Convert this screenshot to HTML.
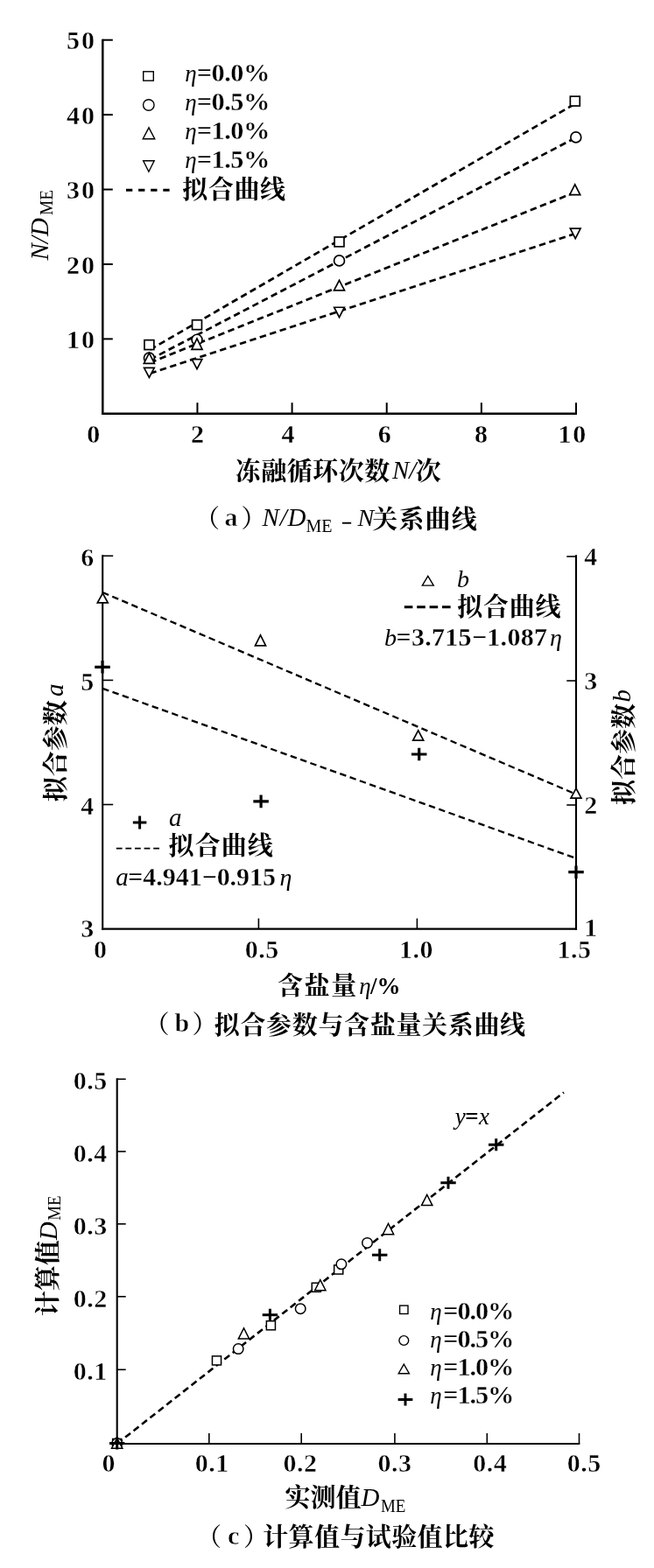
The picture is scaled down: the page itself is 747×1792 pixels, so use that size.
<!DOCTYPE html>
<html lang="zh"><head><meta charset="utf-8"><title>figure</title>
<style>html,body{margin:0;padding:0;background:#fff}svg{display:block}text{font-family:"Liberation Serif", "Noto Serif CJK SC", serif;fill:#000}.i{font-style:italic;font-weight:normal}.b{font-weight:bold}.n{font-weight:normal}.c{font-weight:700}.p{font-weight:500}.t{font-weight:bold;stroke:#fff;stroke-width:0.5px}.u{font-weight:bold;stroke:#fff;stroke-width:0.35px}</style>
</head><body>
<svg width="747" height="1792" viewBox="0 0 747 1792">
<rect width="747" height="1792" fill="#fff"/>
<line x1="171.37" y1="399.64" x2="658" y2="117.88" stroke="#000" stroke-width="2.7" stroke-dasharray="7.5 4.5" stroke-dashoffset="0"/>
<line x1="171.37" y1="410.87" x2="658" y2="157.17" stroke="#000" stroke-width="2.7" stroke-dasharray="7.5 4.5" stroke-dashoffset="0"/>
<line x1="171.37" y1="414.48" x2="658" y2="219.36" stroke="#000" stroke-width="2.7" stroke-dasharray="7.5 4.5" stroke-dashoffset="0"/>
<line x1="171.37" y1="426.82" x2="658" y2="266.68" stroke="#000" stroke-width="2.7" stroke-dasharray="7.5 4.5" stroke-dashoffset="0"/>
<line x1="117.3" y1="44.7" x2="117.3" y2="474.05" stroke="#000" stroke-width="2.5" />
<line x1="116.05" y1="472.8" x2="659" y2="472.8" stroke="#000" stroke-width="2.5" />
<line x1="117.3" y1="387.38" x2="128.8" y2="387.38" stroke="#000" stroke-width="2" />
<text id="ay1" class="u" x="109.7" y="397.98" font-size="30" text-anchor="end" letter-spacing="1.8">10</text>
<line x1="117.3" y1="301.96" x2="128.8" y2="301.96" stroke="#000" stroke-width="2" />
<text id="ay2" class="u" x="109.7" y="312.56" font-size="30" text-anchor="end" letter-spacing="1.8">20</text>
<line x1="117.3" y1="216.54" x2="128.8" y2="216.54" stroke="#000" stroke-width="2" />
<text id="ay3" class="u" x="109.7" y="227.14" font-size="30" text-anchor="end" letter-spacing="1.8">30</text>
<line x1="117.3" y1="131.12" x2="128.8" y2="131.12" stroke="#000" stroke-width="2" />
<text id="ay4" class="u" x="109.7" y="141.72" font-size="30" text-anchor="end" letter-spacing="1.8">40</text>
<line x1="117.3" y1="45.7" x2="128.8" y2="45.7" stroke="#000" stroke-width="2" />
<text id="ay5" class="u" x="109.7" y="56.3" font-size="30" text-anchor="end" letter-spacing="1.8">50</text>
<line x1="225.44" y1="472.8" x2="225.44" y2="460.2" stroke="#000" stroke-width="2" />
<line x1="333.58" y1="472.8" x2="333.58" y2="460.2" stroke="#000" stroke-width="2" />
<line x1="441.72" y1="472.8" x2="441.72" y2="460.2" stroke="#000" stroke-width="2" />
<line x1="549.86" y1="472.8" x2="549.86" y2="460.2" stroke="#000" stroke-width="2" />
<line x1="658" y1="472.8" x2="658" y2="460.2" stroke="#000" stroke-width="2" />
<text id="ax0" class="u" x="107.6" y="505.7" font-size="30" text-anchor="middle" letter-spacing="1.8">0</text>
<text id="ax1" class="u" x="226.4" y="505.7" font-size="30" text-anchor="middle" letter-spacing="1.8">2</text>
<text id="ax2" class="u" x="329.9" y="505.7" font-size="30" text-anchor="middle" letter-spacing="1.8">4</text>
<text id="ax3" class="u" x="440.1" y="505.7" font-size="30" text-anchor="middle" letter-spacing="1.8">6</text>
<text id="ax4" class="u" x="550.5" y="505.7" font-size="30" text-anchor="middle" letter-spacing="1.8">8</text>
<text id="ax5" class="u" x="654.2" y="505.7" font-size="30" text-anchor="middle" letter-spacing="1.8">10</text>
<rect x="164.95" y="388.65" width="10.9" height="10.9" fill="#fff" stroke="#000" stroke-width="1.7"/>
<circle cx="170.4" cy="409" r="5.95" fill="#fff" stroke="#000" stroke-width="1.7"/>
<polygon points="164.38,415.45 176.42,415.45 170.4,403.4" fill="#fff" stroke="#000" stroke-width="1.7"/>
<polygon points="164.57,420.45 176.23,420.45 170.4,431.39" fill="#fff" stroke="#000" stroke-width="1.7"/>
<rect x="219.55" y="365.75" width="10.9" height="10.9" fill="#fff" stroke="#000" stroke-width="1.7"/>
<circle cx="225" cy="388.2" r="5.95" fill="#fff" stroke="#000" stroke-width="1.7"/>
<polygon points="218.96,399.35 231.04,399.35 225,386.94" fill="#fff" stroke="#000" stroke-width="1.7"/>
<polygon points="219.16,410.65 230.84,410.65 225,421.77" fill="#fff" stroke="#000" stroke-width="1.7"/>
<rect x="382.05" y="270.95" width="10.9" height="10.9" fill="#fff" stroke="#000" stroke-width="1.7"/>
<circle cx="387.5" cy="297.9" r="5.95" fill="#fff" stroke="#000" stroke-width="1.7"/>
<polygon points="381.5,331.95 393.5,331.95 387.5,320.35" fill="#fff" stroke="#000" stroke-width="1.7"/>
<polygon points="381.64,351.25 393.36,351.25 387.5,362.73" fill="#fff" stroke="#000" stroke-width="1.7"/>
<rect x="651.35" y="110.15" width="10.9" height="10.9" fill="#fff" stroke="#000" stroke-width="1.7"/>
<circle cx="657.8" cy="156.9" r="5.95" fill="#fff" stroke="#000" stroke-width="1.7"/>
<polygon points="650.69,222.65 662.71,222.65 656.7,210.96" fill="#fff" stroke="#000" stroke-width="1.7"/>
<polygon points="651.33,261.15 663.07,261.15 657.2,272.72" fill="#fff" stroke="#000" stroke-width="1.7"/>
<rect x="163.7" y="81.8" width="11.6" height="10.4" fill="#fff" stroke="#000" stroke-width="1.4"/>
<circle cx="169.8" cy="120" r="6.25" fill="#fff" stroke="#000" stroke-width="1.4"/>
<polygon points="163.26,158.7 176.74,158.7 170,145.81" fill="#fff" stroke="#000" stroke-width="1.4"/>
<polygon points="163.64,183.8 176.16,183.8 169.9,196.24" fill="#fff" stroke="#000" stroke-width="1.4"/>
<text id="al0e" class="i" x="211.3" y="92.7" font-size="27">η</text>
<text id="al0" class="u" x="224.7" y="92.7" font-size="30.3" letter-spacing="-0.45">=0.0%</text>
<text id="al1e" class="i" x="211.3" y="125.9" font-size="27">η</text>
<text id="al1" class="u" x="224.7" y="125.9" font-size="30.3" letter-spacing="-0.45">=0.5%</text>
<text id="al2e" class="i" x="211.3" y="159.4" font-size="27">η</text>
<text id="al2" class="u" x="224.7" y="159.4" font-size="30.3" letter-spacing="-0.45">=1.0%</text>
<text id="al3e" class="i" x="211.3" y="192.3" font-size="27">η</text>
<text id="al3" class="u" x="224.7" y="192.3" font-size="30.3" letter-spacing="-0.45">=1.5%</text>
<line x1="144" y1="217.3" x2="193.6" y2="217.3" stroke="#000" stroke-width="3" stroke-dasharray="7.3 6.8" stroke-dashoffset="0"/>
<text id="alc" class="c" x="208.3" y="227.3" font-size="29" letter-spacing="0.6">拟合曲线</text>
<text id="ayl1" class="i" transform="translate(54.8,297.5) rotate(-90)" font-size="29">N/D</text>
<text id="ayl2" class="n" transform="translate(60.2,246) rotate(-90) scale(0.88,1)" font-size="22">ME</text>
<text id="axl1" class="c" x="268.8" y="548.9" font-size="29" letter-spacing="0.5">冻融循环次数</text>
<text id="axl2" class="i" x="448" y="546.7" font-size="29">N/</text>
<text id="axl3" class="c" x="474.7" y="548.9" font-size="29" letter-spacing="-1.5">次</text>
<text id="ac1a" class="p" x="222.5" y="603.4" font-size="28.5">（</text>
<text id="ac1" class="t" x="256.5" y="601.2" font-size="30">a</text>
<text id="ac1b" class="p" x="275.5" y="603.4" font-size="28.5">）</text>
<text id="ac2" class="i" x="299.5" y="601.2" font-size="29" letter-spacing="0.8">N/D</text>
<text id="ac3" class="n" transform="translate(349.5,608) scale(0.93,1)" font-size="21.5">ME</text>
<text id="ac4" class="t" transform="translate(389,604.5) scale(1.4,1)" font-size="30">-</text>
<text id="ac5" class="i" x="408.5" y="601.2" font-size="28">N</text>
<text id="ac6" class="c" x="425.2" y="604" font-size="29" letter-spacing="1.2">关系曲线</text>
<line x1="117.2" y1="677" x2="658" y2="907.7" stroke="#000" stroke-width="2.3" stroke-dasharray="7.5 4.5" stroke-dashoffset="0"/>
<line x1="117.2" y1="786.8" x2="658" y2="981" stroke="#000" stroke-width="2.3" stroke-dasharray="7.5 4.5" stroke-dashoffset="0"/>
<line x1="117.2" y1="634.3" x2="117.2" y2="1062.65" stroke="#000" stroke-width="2.1" />
<line x1="658" y1="634.3" x2="658" y2="1062.65" stroke="#000" stroke-width="2.1" />
<line x1="116.15" y1="1061.6" x2="659.05" y2="1061.6" stroke="#000" stroke-width="2.1" />
<line x1="117.2" y1="919.5" x2="129.2" y2="919.5" stroke="#000" stroke-width="1.6" />
<line x1="117.2" y1="777.4" x2="129.2" y2="777.4" stroke="#000" stroke-width="1.6" />
<line x1="117.2" y1="635.3" x2="129.2" y2="635.3" stroke="#000" stroke-width="1.6" />
<text id="by3" class="t" x="107.3" y="1070.7" font-size="30" text-anchor="end">3</text>
<text id="by4" class="t" x="107.3" y="930.9" font-size="30" text-anchor="end">4</text>
<text id="by5" class="t" x="107.3" y="788.8" font-size="30" text-anchor="end">5</text>
<text id="by6" class="t" x="107.3" y="646.7" font-size="30" text-anchor="end">6</text>
<line x1="658" y1="920" x2="647.3" y2="920" stroke="#000" stroke-width="1.6" />
<line x1="658" y1="778" x2="647.3" y2="778" stroke="#000" stroke-width="1.6" />
<line x1="658" y1="636" x2="647.3" y2="636" stroke="#000" stroke-width="1.6" />
<text id="br1" class="t" x="667.2" y="1070.2" font-size="30">1</text>
<text id="br2" class="t" x="667.2" y="929.6" font-size="30">2</text>
<text id="br3" class="t" x="667.2" y="787.7" font-size="30">3</text>
<text id="br4" class="t" x="667.2" y="645.8" font-size="30">4</text>
<line x1="295.4" y1="1061.6" x2="295.4" y2="1049.6" stroke="#000" stroke-width="1.6" />
<line x1="476.4" y1="1061.6" x2="476.4" y2="1049.6" stroke="#000" stroke-width="1.6" />
<text id="bx0" class="t" x="114.7" y="1094.5" font-size="30" text-anchor="middle" letter-spacing="0.5">0</text>
<text id="bx1" class="t" x="299.2" y="1094.5" font-size="30" text-anchor="middle" letter-spacing="0.5">0.5</text>
<text id="bx2" class="t" x="475.5" y="1094.5" font-size="30" text-anchor="middle" letter-spacing="0.5">1.0</text>
<text id="bx3" class="t" x="656" y="1094.5" font-size="30" text-anchor="middle" letter-spacing="0.5">1.5</text>
<polygon points="111.34,688.95 123.26,688.95 117.3,678.07" fill="#fff" stroke="#000" stroke-width="1.7"/>
<polygon points="291.48,737.95 303.52,737.95 297.5,725.99" fill="#fff" stroke="#000" stroke-width="1.7"/>
<polygon points="471.72,846.15 483.68,846.15 477.7,834.91" fill="#fff" stroke="#000" stroke-width="1.7"/>
<polygon points="652.02,912.15 663.98,912.15 658,901" fill="#fff" stroke="#000" stroke-width="1.7"/>
<path d="M108.25,762.3H125.75M117,755V769.6" stroke="#000" stroke-width="3.2" fill="none"/>
<path d="M289.35,915.9H306.85M298.1,908.6V923.2" stroke="#000" stroke-width="3.2" fill="none"/>
<path d="M469.95,862H487.45M478.7,854.7V869.3" stroke="#000" stroke-width="3.2" fill="none"/>
<path d="M649.25,996.7H666.75M658,989.4V1004" stroke="#000" stroke-width="3.2" fill="none"/>
<polygon points="482.34,669.1 495.26,669.1 488.8,658.36" fill="#fff" stroke="#000" stroke-width="1.4"/>
<text id="blb" class="i" x="522" y="670.5" font-size="28">b</text>
<line x1="461.8" y1="693.7" x2="516" y2="693.7" stroke="#000" stroke-width="3" stroke-dasharray="9.6 4.8" stroke-dashoffset="0"/>
<text id="blc" class="c" x="522.2" y="704.4" font-size="29" letter-spacing="0.8">拟合曲线</text>
<text id="bf1" class="i" x="439" y="738" font-size="28">b</text>
<text id="bf2" class="u" x="452.5" y="738" font-size="30" letter-spacing="0.3">=3.715−1.087</text>
<text id="bf3" class="i" x="628" y="738" font-size="28">η</text>
<path d="M151.85,939.9H167.35M159.6,932.4V947.4" stroke="#000" stroke-width="3" fill="none"/>
<text id="bla" class="i" x="193" y="944.4" font-size="29">a</text>
<line x1="132.8" y1="969.7" x2="182" y2="969.7" stroke="#000" stroke-width="1.7" stroke-dasharray="6.8 3.8" stroke-dashoffset="0"/>
<text id="blac" class="c" x="192.6" y="976.9" font-size="29" letter-spacing="1.05">拟合曲线</text>
<text id="bg1" class="i" x="132.3" y="1011.6" font-size="29">a</text>
<text id="bg2" class="u" x="146.3" y="1011.6" font-size="30" letter-spacing="-0.05">=4.941−0.915</text>
<text id="bg3" class="i" x="319.5" y="1011.6" font-size="28">η</text>
<text id="byl1" class="c" transform="translate(73.9,916.3) rotate(-90)" font-size="29">拟合参数</text>
<text id="byl2" class="i" transform="translate(72.3,796) rotate(-90)" font-size="29">a</text>
<text id="byr1" class="c" transform="translate(722.9,920) rotate(-90)" font-size="29">拟合参数</text>
<text id="byr2" class="i" transform="translate(720,802.5) rotate(-90)" font-size="29">b</text>
<text id="bxl1" class="c" x="317" y="1136.9" font-size="29" letter-spacing="1.6">含盐量</text>
<text id="bxl2" class="i" x="410.3" y="1135.6" font-size="27">η</text>
<text id="bxl3" class="b" x="423" y="1135.6" font-size="27">/%</text>
<text id="bc1a" class="p" x="165" y="1181.3" font-size="28.5">（</text>
<text id="bc1" class="t" x="199.5" y="1179" font-size="30">b</text>
<text id="bc1b" class="p" x="219.5" y="1181.3" font-size="28.5">）</text>
<text id="bc2" class="c" x="244.8" y="1181.9" font-size="29" letter-spacing="0.66">拟合参数与含盐量关系曲线</text>
<line x1="133.7" y1="1650" x2="644" y2="1248.5" stroke="#000" stroke-width="2.6" stroke-dasharray="7.5 4.5" stroke-dashoffset="0"/>
<line x1="133.7" y1="1232.3" x2="133.7" y2="1651.05" stroke="#000" stroke-width="2.1" />
<line x1="132.65" y1="1650" x2="662.3" y2="1650" stroke="#000" stroke-width="2.1" />
<line x1="133.7" y1="1565.3" x2="143.7" y2="1565.3" stroke="#000" stroke-width="1.6" />
<text id="cy0" class="t" x="122.8" y="1577.3" font-size="30" text-anchor="end" letter-spacing="0.5">0.1</text>
<line x1="238.8" y1="1650" x2="238.8" y2="1638" stroke="#000" stroke-width="1.6" />
<text id="cx0" class="t" x="242.2" y="1682" font-size="30" text-anchor="middle" letter-spacing="0.5">0.1</text>
<line x1="133.7" y1="1481.8" x2="143.7" y2="1481.8" stroke="#000" stroke-width="1.6" />
<text id="cy1" class="t" x="122.8" y="1493.8" font-size="30" text-anchor="end" letter-spacing="0.5">0.2</text>
<line x1="344.2" y1="1650" x2="344.2" y2="1638" stroke="#000" stroke-width="1.6" />
<text id="cx1" class="t" x="343" y="1682" font-size="30" text-anchor="middle" letter-spacing="0.5">0.2</text>
<line x1="133.7" y1="1398.8" x2="143.7" y2="1398.8" stroke="#000" stroke-width="1.6" />
<text id="cy2" class="t" x="122.8" y="1410.8" font-size="30" text-anchor="end" letter-spacing="0.5">0.3</text>
<line x1="450.9" y1="1650" x2="450.9" y2="1638" stroke="#000" stroke-width="1.6" />
<text id="cx2" class="t" x="451" y="1682" font-size="30" text-anchor="middle" letter-spacing="0.5">0.3</text>
<line x1="133.7" y1="1316" x2="143.7" y2="1316" stroke="#000" stroke-width="1.6" />
<text id="cy3" class="t" x="122.8" y="1328" font-size="30" text-anchor="end" letter-spacing="0.5">0.4</text>
<line x1="556.3" y1="1650" x2="556.3" y2="1638" stroke="#000" stroke-width="1.6" />
<text id="cx3" class="t" x="559.7" y="1682" font-size="30" text-anchor="middle" letter-spacing="0.5">0.4</text>
<line x1="133.7" y1="1233.3" x2="143.7" y2="1233.3" stroke="#000" stroke-width="1.6" />
<text id="cy4" class="t" x="122.8" y="1245.3" font-size="30" text-anchor="end" letter-spacing="0.5">0.5</text>
<line x1="661.5" y1="1650" x2="661.5" y2="1638" stroke="#000" stroke-width="1.6" />
<text id="cx4" class="t" x="667.2" y="1682" font-size="30" text-anchor="middle" letter-spacing="0.5">0.5</text>
<text id="cxo" class="t" x="124.1" y="1682" font-size="30" text-anchor="middle">0</text>
<rect x="128.65" y="1644.45" width="10.1" height="10.1" fill="#fff" stroke="#000" stroke-width="1.5"/>
<circle cx="133.7" cy="1649.5" r="5.75" fill="#fff" stroke="#000" stroke-width="1.5"/>
<polygon points="127.54,1655.25 139.86,1655.25 133.7,1643.6" fill="#fff" stroke="#000" stroke-width="1.5"/>
<path d="M125,1649.5H142.4M133.7,1642.5V1656.5" stroke="#000" stroke-width="3" fill="none"/>
<path d="M299.7,1502.7H317.1M308.4,1495.7V1509.7" stroke="#000" stroke-width="3" fill="none"/>
<path d="M425,1434.3H442.4M433.7,1427.3V1441.3" stroke="#000" stroke-width="3" fill="none"/>
<path d="M503.3,1351.8H520.7M512,1344.8V1358.8" stroke="#000" stroke-width="3" fill="none"/>
<path d="M558,1308.3H575.4M566.7,1301.3V1315.3" stroke="#000" stroke-width="3" fill="none"/>
<rect x="242.45" y="1549.85" width="10.1" height="10.1" fill="#fff" stroke="#000" stroke-width="1.5"/>
<rect x="304.35" y="1509.75" width="10.1" height="10.1" fill="#fff" stroke="#000" stroke-width="1.5"/>
<rect x="356.25" y="1466.25" width="10.1" height="10.1" fill="#fff" stroke="#000" stroke-width="1.5"/>
<rect x="381.65" y="1445.95" width="10.1" height="10.1" fill="#fff" stroke="#000" stroke-width="1.5"/>
<circle cx="272.2" cy="1541.6" r="5.75" fill="#fff" stroke="#000" stroke-width="1.5"/>
<circle cx="343.2" cy="1495.7" r="5.75" fill="#fff" stroke="#000" stroke-width="1.5"/>
<circle cx="389.9" cy="1444.8" r="5.75" fill="#fff" stroke="#000" stroke-width="1.5"/>
<circle cx="419.5" cy="1420.4" r="5.75" fill="#fff" stroke="#000" stroke-width="1.5"/>
<polygon points="272.32,1530.05 284.68,1530.05 278.5,1517.95" fill="#fff" stroke="#000" stroke-width="1.5"/>
<polygon points="359.62,1474.75 371.98,1474.75 365.8,1462.65" fill="#fff" stroke="#000" stroke-width="1.5"/>
<polygon points="437.32,1410.65 449.68,1410.65 443.5,1398.46" fill="#fff" stroke="#000" stroke-width="1.5"/>
<polygon points="481.52,1377.55 493.88,1377.55 487.7,1365.36" fill="#fff" stroke="#000" stroke-width="1.5"/>
<text id="cyx1" class="i" x="519.8" y="1284.6" font-size="27">y</text>
<text id="cyx2" class="b" x="531.3" y="1284.6" font-size="27">=</text>
<text id="cyx3" class="i" x="547" y="1284.6" font-size="27">x</text>
<rect x="456.6" y="1492.1" width="9.4" height="9.4" fill="#fff" stroke="#000" stroke-width="1.4"/>
<circle cx="461.3" cy="1532" r="5.4" fill="#fff" stroke="#000" stroke-width="1.4"/>
<polygon points="455.21,1569.7 467.39,1569.7 461.3,1559.1" fill="#fff" stroke="#000" stroke-width="1.4"/>
<path d="M454.65,1599.5H471.35M463,1592.5V1606.5" stroke="#000" stroke-width="3" fill="none"/>
<text id="cl0e" class="i" x="491.3" y="1507.6" font-size="27">η</text>
<text id="cl0" class="u" x="506.3" y="1507.6" font-size="30.3" letter-spacing="-1.1">=0.0%</text>
<text id="cl1e" class="i" x="491.3" y="1539.8" font-size="27">η</text>
<text id="cl1" class="u" x="506.3" y="1539.8" font-size="30.3" letter-spacing="-1.1">=0.5%</text>
<text id="cl2e" class="i" x="491.3" y="1572" font-size="27">η</text>
<text id="cl2" class="u" x="506.3" y="1572" font-size="30.3" letter-spacing="-1.1">=1.0%</text>
<text id="cl3e" class="i" x="491.3" y="1604" font-size="27">η</text>
<text id="cl3" class="u" x="506.3" y="1604" font-size="30.3" letter-spacing="-1.1">=1.5%</text>
<text id="cyl1" class="c" transform="translate(64.9,1504.3) rotate(-90)" font-size="29" letter-spacing="0.05">计算值</text>
<text id="cyl2" class="i" transform="translate(64.8,1417.2) rotate(-90)" font-size="29">D</text>
<text id="cyl3" class="n" transform="translate(69.1,1394.8) rotate(-90) scale(0.88,1)" font-size="21.5">ME</text>
<text id="cxl1" class="c" x="325.6" y="1722.2" font-size="29" letter-spacing="-0.1">实测值</text>
<text id="cxl2" class="i" x="412.5" y="1721" font-size="29">D</text>
<text id="cxl3" class="n" transform="translate(435,1728.2) scale(0.88,1)" font-size="21.5">ME</text>
<text id="cc1a" class="p" x="224.5" y="1766.6" font-size="28.5">（</text>
<text id="cc1" class="t" x="260" y="1764.5" font-size="30">c</text>
<text id="cc1b" class="p" x="278" y="1766.6" font-size="28.5">）</text>
<text id="cc2" class="c" x="300.2" y="1767.2" font-size="29" letter-spacing="0.4">计算值与试验值比较</text>
</svg></body></html>
